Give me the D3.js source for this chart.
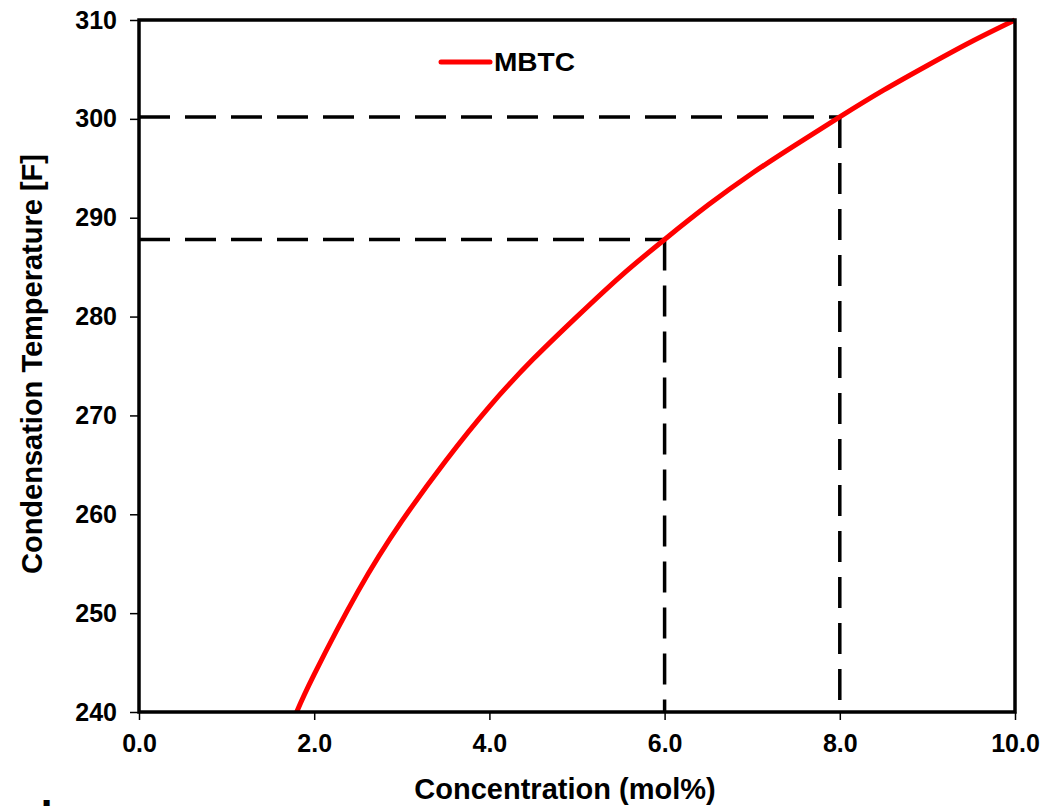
<!DOCTYPE html>
<html>
<head>
<meta charset="utf-8">
<script src="https://cdn.jsdelivr.net/npm/d3@7"></script>
<style>
  body { margin: 0; background: #fff; }
  svg { display: block; font-family: Arial, "Liberation Sans", sans-serif; }
</style>
</head>
<body>
<svg id="chart" width="1057" height="806"></svg>
<script>
// data
const concentration = [1.8, 2.0, 2.5, 3.0, 3.5, 4.0, 4.5, 5.0, 5.5, 6.0, 6.5, 7.0, 7.5, 8.0, 8.5, 9.0, 9.5, 10.0];
const temperature = [240, 243.8, 252.2, 259.3, 265.4, 270.9, 275.7, 280.0, 284.1, 287.8, 291.3, 294.5, 297.4, 300.2, 302.9, 305.4, 307.8, 310];
const xTicks = [0, 2, 4, 6, 8, 10];
const yTicks = [240, 250, 260, 270, 280, 290, 300, 310];
// guide lines dropped from the curve
const guideX = [6.0, 8.0];
const guideY = [287.8, 300.2];
const seriesName = "MBTC";

const svg = d3.select("#chart");
const margin = { left: 139, right: 42, top: 20, bottom: 94 };
const W = 1057, H = 806;

const x = d3.scaleLinear().domain([0, 10]).range([margin.left, W - margin.right]);
const y = d3.scaleLinear().domain([240, 310]).range([H - margin.bottom, margin.top]);

// axes
const xAxis = svg.append("g")
  .attr("transform", `translate(0,${y(240)})`)
  .call(d3.axisBottom(x).tickValues(xTicks).tickSize(8).tickPadding(14).tickFormat(d3.format(".1f")));
const yAxis = svg.append("g")
  .attr("transform", `translate(${x(0)},0)`)
  .call(d3.axisLeft(y).tickValues(yTicks).tickSize(9).tickPadding(13).tickFormat(d3.format("d")));

[xAxis, yAxis].forEach(g => {
  g.select(".domain").remove();
  g.selectAll(".tick line").attr("stroke", "#000").attr("stroke-width", 1.5);
  g.selectAll(".tick text")
    .attr("fill", "#000")
    .style("font-size", "25px")
    .style("font-weight", "bold")
    .style("font-family", "Arial, 'Liberation Sans', sans-serif");
});

// dashed guides
guideX.forEach((gx, i) => {
  const gy = guideY[i];
  svg.append("line")
    .attr("x1", x(0)).attr("x2", x(gx))
    .attr("y1", y(gy)).attr("y2", y(gy))
    .attr("stroke", "#000").attr("stroke-width", 3.5)
    .attr("stroke-dasharray", "31 15");
  svg.append("line")
    .attr("x1", x(gx)).attr("x2", x(gx))
    .attr("y1", y(gy)).attr("y2", y(240))
    .attr("stroke", "#000").attr("stroke-width", 3.5)
    .attr("stroke-dasharray", "31 15");
});

// curve
const pts = concentration.map((c, i) => [c, temperature[i]]);
svg.append("path")
  .datum(pts)
  .attr("fill", "none")
  .attr("stroke", "#ff0000")
  .attr("stroke-width", 5)
  .attr("d", d3.line().x(d => x(d[0])).y(d => y(d[1])).curve(d3.curveNatural));

// frame
svg.append("rect")
  .attr("x", x(0)).attr("y", y(310))
  .attr("width", x(10) - x(0)).attr("height", y(240) - y(310))
  .attr("fill", "none").attr("stroke", "#000").attr("stroke-width", 3.5);

// legend
svg.append("line")
  .attr("x1", 441).attr("x2", 490).attr("y1", 62).attr("y2", 62)
  .attr("stroke", "#ff0000").attr("stroke-width", 5).attr("stroke-linecap", "round");
svg.append("text")
  .attr("x", 494).attr("y", 71)
  .style("font-size", "25px").style("font-weight", "bold")
  .attr("textLength", 81).attr("lengthAdjust", "spacingAndGlyphs")
  .text(seriesName);

// axis titles
svg.append("text")
  .attr("x", 565).attr("y", 799)
  .attr("text-anchor", "middle")
  .style("font-size", "29px").style("font-weight", "bold")
  .text("Concentration (mol%)");
svg.append("text")
  .attr("transform", `translate(42,364) rotate(-90)`)
  .attr("text-anchor", "middle")
  .style("font-size", "29px").style("font-weight", "bold")
  .text("Condensation  Temperature [F]");

// cut-off text at the very bottom edge
svg.append("text")
  .attr("x", 16).attr("y", 832)
  .style("font-size", "44px").style("font-weight", "bold")
  .text("al");
</script>
</body>
</html>
